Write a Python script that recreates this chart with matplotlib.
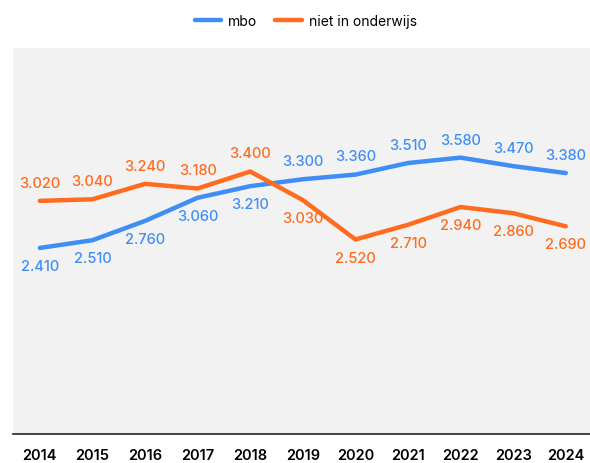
import matplotlib.pyplot as plt
import numpy as np

years = ['2014', '2015', '2016', '2017', '2018', '2019', '2020', '2021', '2022', '2023', '2024']
mbo = [2410, 2510, 2760, 3060, 3210, 3300, 3360, 3510, 3580, 3470, 3380]
niet = [3020, 3040, 3240, 3180, 3400, 3030, 2520, 2710, 2940, 2860, 2690]

BLUE = '#3f8ef5'
ORANGE = '#ff6b1f'

def fmt(v):
    # dutch thousands separator
    return f'{v:,}'.replace(',', '.')

def main():
    plt.rcParams['font.family'] = ['Inter', 'DejaVu Sans']
    fig = plt.figure(figsize=(5.9, 4.64), dpi=100)
    ax = fig.add_axes([13/590, 29/464, 577/590, 386/464])
    ax.set_facecolor('#f2f2f2')

    x = np.arange(len(years))
    ax.plot(x, mbo, color=BLUE, lw=3.2, solid_capstyle='round', label='mbo')
    ax.plot(x, niet, color=ORANGE, lw=3.2, solid_capstyle='round', label='niet in onderwijs')

    #label above for the higher line, below for the lower one
    for i in x:
        for vals, other, c in ((mbo, niet, BLUE), (niet, mbo, ORANGE)):
            up = vals[i] >= other[i]
            ax.annotate(fmt(vals[i]), (i, vals[i]), xytext=(0, 8 if up else -8),
                        textcoords='offset points', ha='center',
                        va='bottom' if up else 'top', color=c,
                        fontsize=10.5, fontweight='medium')

    ax.set_xlim(-0.51, 10.46)
    ax.set_ylim(0, 5000)
    ax.set_xticks(x)
    ax.set_xticklabels(years, fontsize=10.5, fontweight='semibold')
    ax.tick_params(axis='x', length=0, pad=10)
    ax.set_yticks([])
    for s in ['top', 'right', 'left']:
        ax.spines[s].set_visible(False)
    ax.spines['bottom'].set_color('#222222')
    ax.spines['bottom'].set_linewidth(1.2)

    fig.legend(loc='upper center', bbox_to_anchor=(0.518, 0.995), ncol=2, frameon=False,
               fontsize=10, handlelength=1.9, columnspacing=1.3, handletextpad=0.5)
    fig.savefig('out.png')

if __name__ == '__main__':
    main()
